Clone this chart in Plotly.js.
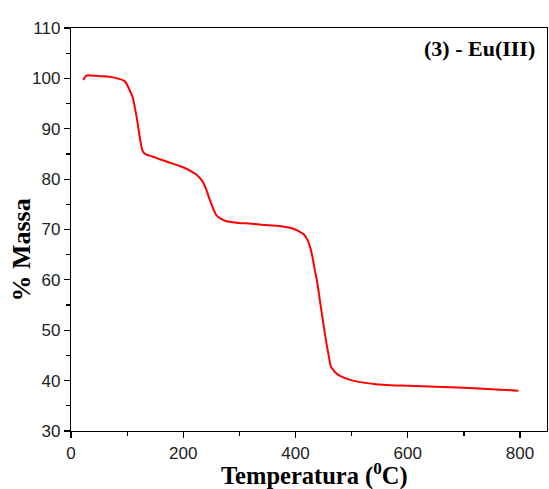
<!DOCTYPE html>
<html>
<head>
<meta charset="utf-8">
<script src="https://cdn.plot.ly/plotly-3.0.1.min.js"></script>
<style>html,body{margin:0;padding:0;background:#fff;}#chart{width:549px;height:489px;}</style>
</head>
<body>
<div id="chart"></div>
<script>
const temperature = [22, 26, 30, 45, 60, 75, 89, 95, 98, 104, 110, 115, 119, 123, 127.5, 133.5, 145, 157, 175, 198.6, 212, 222, 234, 240, 246, 252, 258, 266, 275.6, 299, 318, 335, 360, 377, 395, 407, 415, 421.5, 426, 430, 435, 439, 445, 450, 454, 459, 463, 468, 472, 480, 495.6, 515, 543, 570, 602, 650, 700, 750, 797];
const massPercent = [99.7, 100.4, 100.6, 100.5, 100.4, 100.2, 99.8, 99.5, 99.1, 97.8, 96.2, 93.5, 90.9, 88, 85.6, 84.9, 84.5, 84.0, 83.3, 82.4, 81.7, 81.0, 79.6, 78.2, 76.3, 74.5, 73.0, 72.2, 71.7, 71.3, 71.2, 71.0, 70.8, 70.6, 70.2, 69.6, 69.0, 67.9, 66.5, 64.6, 61.6, 59.3, 54.7, 51.0, 48.1, 45.0, 42.8, 42.0, 41.5, 40.9, 40.2, 39.7, 39.3, 39.1, 39.0, 38.8, 38.6, 38.3, 38.0];
const xTicks = [0, 200, 400, 600, 800];
const yTicks = [30, 40, 50, 60, 70, 80, 90, 100, 110];
const sampleLabel = "(3) - Eu(III)";
const xTitle = "Temperatura (<sup>0</sup>C)";
const yTitle = "% Massa";

const trace = {
  x: temperature, y: massPercent, type: 'scatter', mode: 'lines',
  line: {color: '#ff0000', width: 2, shape: 'spline', smoothing: 0.6},
  hoverinfo: 'skip'
};

const axisCommon = {
  showgrid: false, zeroline: false, showline: true, linecolor: '#000', linewidth: 1.2,
  mirror: true, ticks: 'outside', ticklen: 6, tickwidth: 1.2, tickcolor: '#000',
  tickfont: {family: 'Liberation Sans, Arial, sans-serif', size: 17, color: '#222'}
};

const serifBold = {family: 'Liberation Serif, Times New Roman, serif', color: '#000', weight: 'bold'};

const layout = {
  width: 549, height: 489,
  margin: {l: 71, r: 2, t: 28, b: 58},
  paper_bgcolor: '#fff', plot_bgcolor: '#fff',
  showlegend: false,
  xaxis: Object.assign({}, axisCommon, {
    range: [0, 848], tickmode: 'array', tickvals: xTicks, ticktext: xTicks.map(String),
    ticklabelstandoff: 0,
    minor: {dtick: 100, tick0: 0, ticks: 'outside', ticklen: 4, tickwidth: 1.2, tickcolor: '#000'}
  }),
  yaxis: Object.assign({}, axisCommon, {
    range: [30, 110], tickmode: 'array', tickvals: yTicks, ticktext: yTicks.map(String),
    minor: {dtick: 5, tick0: 0, ticks: 'outside', ticklen: 4, tickwidth: 1.2, tickcolor: '#000'}
  }),
  annotations: [{
    text: '<b>' + sampleLabel + '</b>', xref: 'paper', yref: 'paper',
    x: 0.978, y: 0.985, xanchor: 'right', yanchor: 'top', showarrow: false,
    font: Object.assign({}, serifBold, {size: 22})
  }, {
    text: '<b>' + xTitle + '</b>', xref: 'paper', yref: 'paper',
    x: 0.5126, y: -0.109, xanchor: 'center', yanchor: 'middle', showarrow: false,
    font: Object.assign({}, serifBold, {size: 24.5})
  }, {
    text: '<b>' + yTitle + '</b>', xref: 'paper', yref: 'paper', textangle: -90,
    x: -0.103, y: 0.45, xanchor: 'center', yanchor: 'middle', showarrow: false,
    font: Object.assign({}, serifBold, {size: 26})
  }]
};

Plotly.newPlot('chart', [trace], layout, {displayModeBar: false, staticPlot: true});
</script>
</body>
</html>
